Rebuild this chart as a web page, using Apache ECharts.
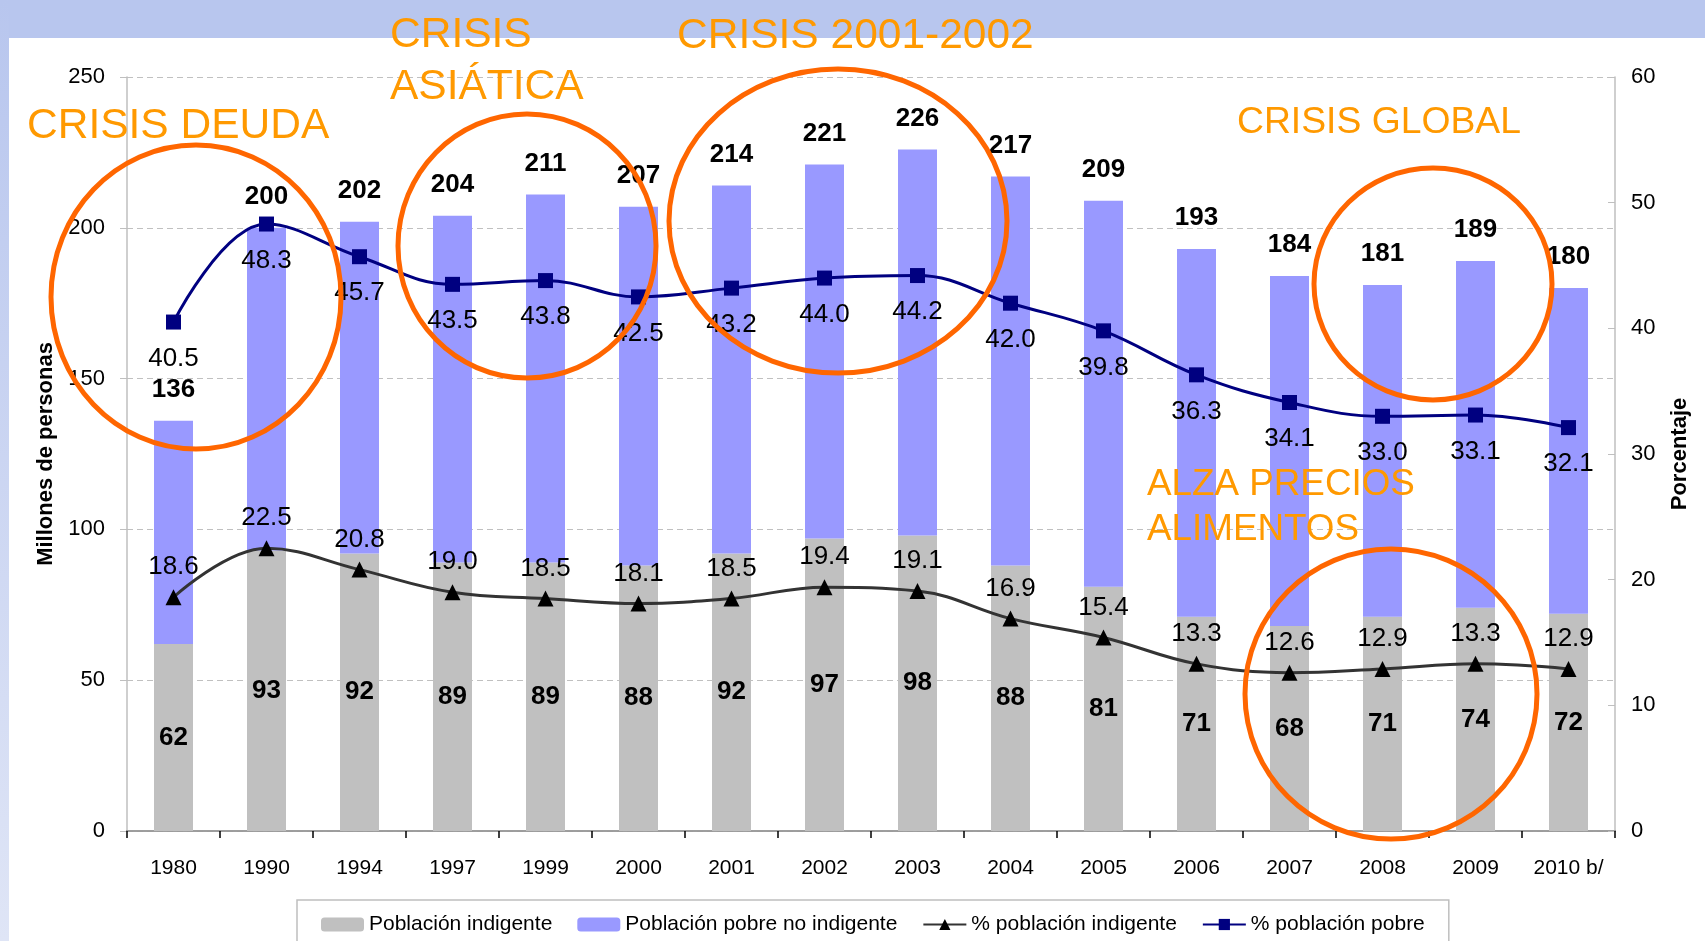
<!DOCTYPE html>
<html>
<head>
<meta charset="utf-8">
<script src="https://cdn.jsdelivr.net/npm/echarts@6/dist/echarts.min.js"></script>
<style>
  html, body { margin: 0; padding: 0; background: #fff; }
  #chart { width: 1705px; height: 941px; }
</style>
</head>
<body>
<div id="chart"></div>
<script>
  // datos
  const years = ['1980', '1990', '1994', '1997', '1999', '2000', '2001', '2002', '2003', '2004', '2005', '2006', '2007', '2008', '2009', '2010 b/']
  const indigentes = [62, 93, 92, 89, 89, 88, 92, 97, 98, 88, 81, 71, 68, 71, 74, 72]
  const totalPobres = [136, 200, 202, 204, 211, 207, 214, 221, 226, 217, 209, 193, 184, 181, 189, 180]
  const pctIndigente = [18.6, 22.5, 20.8, 19.0, 18.5, 18.1, 18.5, 19.4, 19.1, 16.9, 15.4, 13.3, 12.6, 12.9, 13.3, 12.9]
  const pctPobre = [40.5, 48.3, 45.7, 43.5, 43.8, 42.5, 43.2, 44.0, 44.2, 42.0, 39.8, 36.3, 34.1, 33.0, 33.1, 32.1]
  const leftTicks = [0, 50, 100, 150, 200, 250]
  const rightTicks = [0, 10, 20, 30, 40, 50, 60]

  // pobres no indigentes = total - indigentes
  const noIndigentes = totalPobres.map((t, i) => t - indigentes[i])

  const FONT = '"Liberation Sans", Arial, sans-serif'
  const ORANGE_TXT = '#ff9900'
  const ORANGE_RING = '#ff6600'

  const chart = echarts.init(document.getElementById('chart'))

  // anotaciones (texto y círculos naranjas)
  const notes = [
    { text: 'CRISIS DEUDA', x: 27, y: 126, size: 42.5 },
    { text: 'CRISIS', x: 390, y: 35, size: 42.5 },
    { text: 'ASIÁTICA', x: 390, y: 87, size: 42.5 },
    { text: 'CRISIS 2001-2002', x: 677, y: 36, size: 42.5 },
    { text: 'CRISIS GLOBAL', x: 1237, y: 123, size: 37.3 },
    { text: 'ALZA PRECIOS', x: 1147, y: 485, size: 36.8 },
    { text: 'ALIMENTOS', x: 1147, y: 530, size: 36.8 }
  ]
  const rings = [
    { cx: 196, cy: 297, rx: 145, ry: 152 },
    { cx: 527, cy: 246, rx: 129, ry: 132 },
    { cx: 838, cy: 221, rx: 169, ry: 152 },
    { cx: 1433, cy: 284, rx: 119, ry: 116 },
    { cx: 1391, cy: 694, rx: 146, ry: 145 }
  ]

  const graphics = [
    // fondo de la diapositiva
    { type: 'rect', z: -10, shape: { x: 0, y: 0, width: 1705, height: 38 }, style: { fill: '#b8c6ee' } },
    {
      type: 'rect', z: -10, shape: { x: 0, y: 0, width: 9, height: 941 },
      style: {
        fill: new echarts.graphic.LinearGradient(0, 0, 0, 1, [
          { offset: 0, color: '#b8c6ee' },
          { offset: 1, color: '#dfe5f6' }
        ])
      }
    }
  ]
  rings.forEach(r => graphics.push({
    type: 'ellipse', z: 50,
    shape: { cx: r.cx, cy: r.cy, rx: r.rx, ry: r.ry },
    style: { fill: 'none', stroke: ORANGE_RING, lineWidth: 5 }
  }))
  notes.forEach(n => graphics.push({
    type: 'text', z: 60, x: n.x, y: n.y,
    style: {
      text: n.text, fill: ORANGE_TXT, font: n.size + 'px ' + FONT,
      textAlign: 'left', textVerticalAlign: 'middle'
    }
  }))

  const option = {
    backgroundColor: '#fff',
    animation: false,
    textStyle: { fontFamily: FONT },
    grid: { left: 127, right: 90, top: 77, bottom: 110 },
    legend: {
      left: 297,
      top: 900,
      padding: [14, 24, 14, 24],
      borderColor: '#bfbfbf',
      borderWidth: 1.5,
      itemWidth: 43,
      itemHeight: 14,
      itemGap: 25,
      textStyle: { fontSize: 21, color: '#000', fontFamily: FONT },
      data: ['Población indigente', 'Población pobre no indigente', '% población indigente', '% población pobre']
    },
    xAxis: [
      {
        type: 'category',
        data: years,
        axisLine: { lineStyle: { color: '#000', width: 1.5 } },
        axisTick: { show: true, length: 7, lineStyle: { color: '#000', width: 1.5 } },
        axisLabel: { color: '#000', fontSize: 21, margin: 27, fontFamily: FONT, interval: 0 }
      },
      {
        // borde superior del área de trazado
        type: 'category',
        position: 'top',
        data: years,
        axisLine: { show: true, lineStyle: { color: '#bfbfbf', width: 1.5 } },
        axisTick: { show: false },
        axisLabel: { show: false }
      }
    ],
    yAxis: [
      {
        type: 'value',
        min: 0,
        max: 250,
        interval: 50,
        name: 'Millones de personas',
        nameLocation: 'middle',
        nameRotate: 90,
        nameGap: 70,
        nameTextStyle: { fontSize: 22, fontWeight: 'bold', color: '#000', fontFamily: FONT },
        axisLine: { show: true, lineStyle: { color: '#bfbfbf', width: 1.5 } },
        axisTick: { show: true, length: 7, lineStyle: { color: '#bfbfbf' } },
        axisLabel: {
          color: '#000', fontSize: 22, margin: 22, fontFamily: FONT,
          customValues: leftTicks
        },
        splitLine: { show: true, lineStyle: { color: '#c0c0c0', type: [6, 4], width: 1.2 } }
      },
      {
        type: 'value',
        min: 0,
        max: 60,
        interval: 10,
        position: 'right',
        name: 'Porcentaje',
        nameLocation: 'middle',
        nameRotate: 90,
        nameGap: 54,
        nameTextStyle: { fontSize: 22, fontWeight: 'bold', color: '#000', fontFamily: FONT },
        axisLine: { show: true, lineStyle: { color: '#bfbfbf', width: 1.5 } },
        axisTick: { show: true, inside: true, length: 7, lineStyle: { color: '#bfbfbf' } },
        axisLabel: {
          color: '#000', fontSize: 22, margin: 16, fontFamily: FONT,
          customValues: rightTicks
        },
        splitLine: { show: false }
      }
    ],
    series: [
      {
        name: 'Población indigente',
        type: 'bar',
        stack: 'pob',
        barWidth: 39,
        data: indigentes,
        itemStyle: { color: '#c0c0c0' },
        label: {
          show: true,
          position: 'inside',
          color: '#000',
          fontSize: 26,
          fontWeight: 'bold',
          fontFamily: FONT
        }
      },
      {
        name: 'Población pobre no indigente',
        type: 'bar',
        stack: 'pob',
        barWidth: 39,
        data: noIndigentes,
        itemStyle: { color: '#9999ff' },
        label: {
          show: true,
          position: 'top',
          distance: 18,
          color: '#000',
          fontSize: 26,
          fontWeight: 'bold',
          fontFamily: FONT,
          formatter: (p) => totalPobres[p.dataIndex]
        }
      },
      {
        name: '% población indigente',
        type: 'line',
        yAxisIndex: 1,
        smooth: 0.4,
        data: pctIndigente,
        symbol: 'triangle',
        symbolSize: 16,
        z: 5,
        lineStyle: { color: '#333333', width: 3 },
        itemStyle: { color: '#000' },
        label: {
          show: true,
          position: 'top',
          distance: 9,
          color: '#000',
          fontSize: 26,
          fontFamily: FONT,
          formatter: (p) => p.value.toFixed(1)
        }
      },
      {
        name: '% población pobre',
        type: 'line',
        yAxisIndex: 1,
        smooth: 0.4,
        data: pctPobre,
        symbol: 'rect',
        symbolSize: 15,
        z: 5,
        lineStyle: { color: '#000080', width: 3 },
        itemStyle: { color: '#000080' },
        label: {
          show: true,
          position: 'bottom',
          distance: 16,
          color: '#000',
          fontSize: 26,
          fontFamily: FONT,
          formatter: (p) => p.value.toFixed(1)
        }
      }
    ],
    graphic: graphics
  }

  chart.setOption(option)
</script>
</body>
</html>
